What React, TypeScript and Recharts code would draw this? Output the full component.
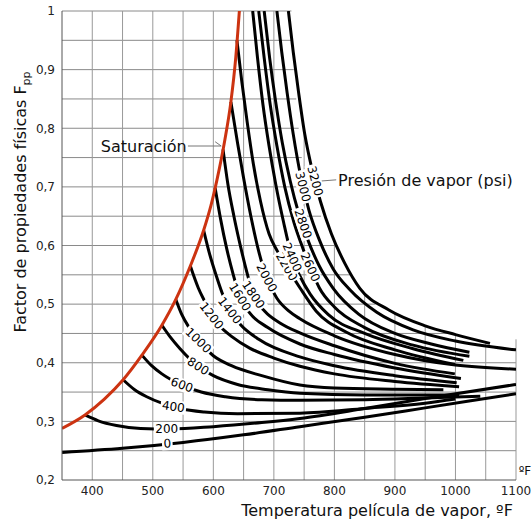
import { LineChart, Line, XAxis, YAxis, ReferenceLine, ReferenceDot } from 'recharts';

const FONT = "'DejaVu Sans', Verdana, sans-serif";

// saturation line, [temperature °F, Fpp]
const saturation = [
  [350, 0.288], [388, 0.311], [420, 0.338], [451, 0.371], [482, 0.413], [515, 0.464],
  [538, 0.508], [562, 0.565], [584, 0.626], [596, 0.668], [606, 0.712], [619, 0.78],
  [629, 0.845], [637, 0.92], [643, 1.0],
];

// isobars (psi), [temperature °F, Fpp]
const pressures = [0, 200, 400, 600, 800, 1000, 1200, 1400, 1600, 1800, 2000, 2200, 2400, 2600, 2800, 3000, 3200];

const iso0 = [[350, 0.247], [450, 0.254], [550, 0.264], [650, 0.277], [743, 0.291], [850, 0.307], [950, 0.323], [1100, 0.347]];
const iso200 = [[388, 0.311], [410, 0.301], [440, 0.293], [480, 0.288], [530, 0.287], [600, 0.291], [680, 0.298], [743, 0.305], [850, 0.322], [950, 0.339], [1100, 0.363]];
const iso400 = [[451, 0.371], [470, 0.354], [490, 0.342], [515, 0.331], [545, 0.322], [585, 0.316], [640, 0.313], [743, 0.314], [850, 0.322], [950, 0.331], [1000, 0.338]];
const iso600 = [[482, 0.413], [498, 0.395], [515, 0.381], [548, 0.362], [580, 0.35], [620, 0.342], [680, 0.337], [743, 0.336], [850, 0.337], [950, 0.34], [1041, 0.343]];
const iso800 = [[515, 0.464], [528, 0.445], [545, 0.424], [575, 0.394], [600, 0.378], [640, 0.363], [690, 0.354], [743, 0.348], [850, 0.345], [950, 0.345], [1006, 0.345]];
const iso1000 = [[538, 0.508], [548, 0.482], [560, 0.46], [575, 0.438], [600, 0.412], [630, 0.395], [680, 0.378], [743, 0.362], [800, 0.357], [900, 0.355], [980, 0.354]];
const iso1200 = [[562, 0.565], [575, 0.528], [589, 0.498], [597, 0.48], [610, 0.463], [630, 0.445], [660, 0.425], [700, 0.408], [743, 0.394], [800, 0.381], [900, 0.368], [1006, 0.359]];
const iso1400 = [[584, 0.626], [594, 0.585], [605, 0.548], [616, 0.515], [627, 0.489], [645, 0.465], [675, 0.44], [743, 0.41], [800, 0.395], [900, 0.378], [1002, 0.366]];
const iso1600 = [[603, 0.698], [612, 0.645], [622, 0.595], [633, 0.55], [644, 0.512], [660, 0.485], [690, 0.46], [743, 0.432], [800, 0.414], [900, 0.391], [1009, 0.373]];
const iso1800 = [[616, 0.764], [624, 0.705], [634, 0.65], [645, 0.598], [656, 0.552], [666, 0.516], [685, 0.488], [710, 0.468], [743, 0.451], [800, 0.429], [900, 0.399], [999, 0.381]];
const iso2000 = [[629, 0.845], [640, 0.775], [650, 0.715], [662, 0.65], [675, 0.59], [688, 0.545], [705, 0.51], [725, 0.488], [743, 0.475], [800, 0.446], [900, 0.414], [1000, 0.396], [1100, 0.389]];
const iso2200 = [[639, 0.95], [647, 0.88], [656, 0.81], [666, 0.74], [678, 0.675], [692, 0.62], [706, 0.59], [721, 0.564], [743, 0.528], [770, 0.488], [820, 0.452], [900, 0.422], [999, 0.397]];
const iso2400 = [[665, 1.0], [673, 0.92], [682, 0.84], [692, 0.77], [703, 0.705], [716, 0.64], [730, 0.58], [743, 0.548], [760, 0.517], [790, 0.482], [850, 0.45], [930, 0.424], [1013, 0.404]];
const iso2600 = [[675, 1.0], [684, 0.92], [694, 0.84], [705, 0.77], [718, 0.7], [733, 0.64], [748, 0.595], [760, 0.563], [775, 0.528], [800, 0.495], [850, 0.46], [930, 0.43], [1023, 0.411]];
const iso2800 = [[684, 1.0], [693, 0.92], [703, 0.845], [714, 0.775], [727, 0.71], [741, 0.655], [756, 0.61], [775, 0.565], [798, 0.527], [840, 0.483], [900, 0.45], [960, 0.432], [1023, 0.418]];
const iso3000 = [[705, 1.0], [713, 0.93], [722, 0.86], [732, 0.79], [744, 0.72], [758, 0.66], [775, 0.61], [798, 0.56], [826, 0.524], [870, 0.486], [930, 0.456], [1000, 0.437], [1100, 0.422]];
const iso3200 = [[724, 1.0], [732, 0.93], [741, 0.86], [751, 0.79], [763, 0.73], [777, 0.675], [795, 0.62], [817, 0.57], [842, 0.527], [890, 0.49], [950, 0.463], [1000, 0.448], [1057, 0.433]];

const isobars = [iso0, iso200, iso400, iso600, iso800, iso1000, iso1200, iso1400, iso1600, iso1800, iso2000, iso2200, iso2400, iso2600, iso2800, iso3000, iso3200];

// where the pressure labels sit on their curves
const labelT = [524, 523, 534, 548, 575, 575, 597, 627, 644, 666, 688, 721, 730, 760, 748, 748, 768];
const labelF = [0.262, 0.287, 0.325, 0.362, 0.394, 0.438, 0.48, 0.489, 0.512, 0.516, 0.545, 0.564, 0.58, 0.563, 0.637, 0.7, 0.71];
const labelAngle = [-3, 0, 8, 20, 32, 44, 52, 52, 58, 56, 62, 60, 66, 66, 71, 76, 75];

const xTicks = [400, 500, 600, 700, 800, 900, 1000, 1100];
const yTicks = [0.2, 0.3, 0.4, 0.5, 0.6, 0.7, 0.8, 0.9, 1];

// grid stops at the outer (3200 psi) curve
const hGridF = [0.25, 0.3, 0.35, 0.4, 0.45, 0.5, 0.55, 0.6, 0.65, 0.7, 0.75, 0.8, 0.85, 0.9, 0.95, 1];
const hGridEnd = [1100, 1100, 1100, 1100, 1000, 868, 828, 800, 778, 760, 746, 741, 737, 733, 730, 729];
const vGridT = [400, 450, 500, 550, 600, 650, 700, 750, 800, 850, 900, 950, 1000, 1050, 1100];
const vGridTop = [1, 1, 1, 1, 1, 1, 1, 0.8, 0.607, 0.515, 0.485, 0.463, 0.448, 0.435, 0.44];

const pts = (a: number[][]) => a.map(([t, f]) => ({ t, f }));
const fmtY = (v: number) => (v === 1 ? '1' : v.toFixed(1).replace('.', ','));

function CurveLabel({ cx, cy, text, angle }: { cx: number; cy: number; text: string; angle: number }) {
  const w = text.length * 7.6 + 3;
  return (
    <g transform={`translate(${cx},${cy}) rotate(${angle})`}>
      <rect x={-w / 2} y={-6.5} width={w} height={13} fill="#fff" />
      <text textAnchor="middle" dominantBaseline="central" fontSize={12} fontFamily={FONT} fill="#000">
        {text}
      </text>
    </g>
  );
}

function XTitle() {
  return (
    <g>
      <text x={377} y={516} textAnchor="middle" fontSize={16} fontFamily={FONT} fill="#111">
        Temperatura película de vapor, ºF
      </text>
      <text x={525} y={475} textAnchor="middle" fontSize={12} fontFamily={FONT} fill="#111">
        ºF
      </text>
    </g>
  );
}

function YTitle() {
  return (
    <text transform="rotate(-90 26 202)" x={26} y={202} textAnchor="middle" fontSize={16} fontFamily={FONT} fill="#111">
      Factor de propiedades físicas F<tspan dy={4} fontSize={11}>pp</tspan>
    </text>
  );
}

export default function App() {
  const tick = { fill: '#222', fontSize: 12, fontFamily: FONT };
  return (
    <div style={{ position: 'absolute', left: 0, top: 0, width: 532, height: 524, background: '#fff' }}>
      <LineChart width={532} height={524} margin={{ top: 11, right: 16, bottom: 14, left: 0 }}>
        <XAxis
          dataKey="t" type="number" domain={[350, 1100]} ticks={xTicks} allowDataOverflow
          tick={tick} tickLine={false} tickSize={0} tickMargin={6}
          axisLine={{ stroke: '#555' }} height={30} label={<XTitle />}
        />
        <YAxis
          type="number" domain={[0.2, 1]} ticks={yTicks} allowDataOverflow tickFormatter={fmtY}
          tick={tick} tickLine={false} tickSize={0} tickMargin={7}
          axisLine={{ stroke: '#555' }} width={62} label={<YTitle />}
        />

        {hGridF.map((f, i) => (
          <ReferenceLine key={'h' + i} segment={[{ x: 350, y: f }, { x: hGridEnd[i], y: f }]} stroke="#8a8a8a" ifOverflow="visible" />
        ))}
        {vGridT.map((t, i) => (
          <ReferenceLine key={'v' + i} segment={[{ x: t, y: 0.2 }, { x: t, y: vGridTop[i] }]} stroke="#999" ifOverflow="visible" />
        ))}

        {isobars.map((d, i) => (
          <Line
            key={pressures[i]} data={pts(d)} dataKey="f" type="monotone"
            stroke="#000" strokeWidth={3} dot={false} activeDot={false} isAnimationActive={false}
          />
        ))}
        <Line
          data={pts(saturation)} dataKey="f" type="monotone"
          stroke="#cc3311" strokeWidth={3} dot={false} activeDot={false} isAnimationActive={false}
        />

        {pressures.map((p, i) => (
          <ReferenceDot
            key={'l' + p} x={labelT[i]} y={labelF[i]} r={0} ifOverflow="visible"
            shape={(s: any) => <CurveLabel cx={s.cx} cy={s.cy} text={String(p)} angle={labelAngle[i]} />}
          />
        ))}

        {/* annotations */}
        <ReferenceLine segment={[{ x: 558, y: 0.7697 }, { x: 613, y: 0.7697 }]} stroke="#777" ifOverflow="visible" />
        <ReferenceLine segment={[{ x: 603, y: 0.777 }, { x: 613, y: 0.7697 }]} stroke="#777" ifOverflow="visible" />
        <ReferenceDot
          x={556} y={0.7697} r={0} ifOverflow="visible"
          shape={(s: any) => (
            <text x={s.cx} y={s.cy} textAnchor="end" dominantBaseline="central" fontSize={16} fontFamily={FONT} fill="#111">
              Saturación
            </text>
          )}
        />
        <ReferenceLine segment={[{ x: 778, y: 0.71 }, { x: 803, y: 0.712 }]} stroke="#777" ifOverflow="visible" />
        <ReferenceDot
          x={806} y={0.7117} r={0} ifOverflow="visible"
          shape={(s: any) => (
            <text x={s.cx} y={s.cy} textAnchor="start" dominantBaseline="central" fontSize={16} fontFamily={FONT} fill="#111">
              Presión de vapor (psi)
            </text>
          )}
        />
      </LineChart>
    </div>
  );
}
